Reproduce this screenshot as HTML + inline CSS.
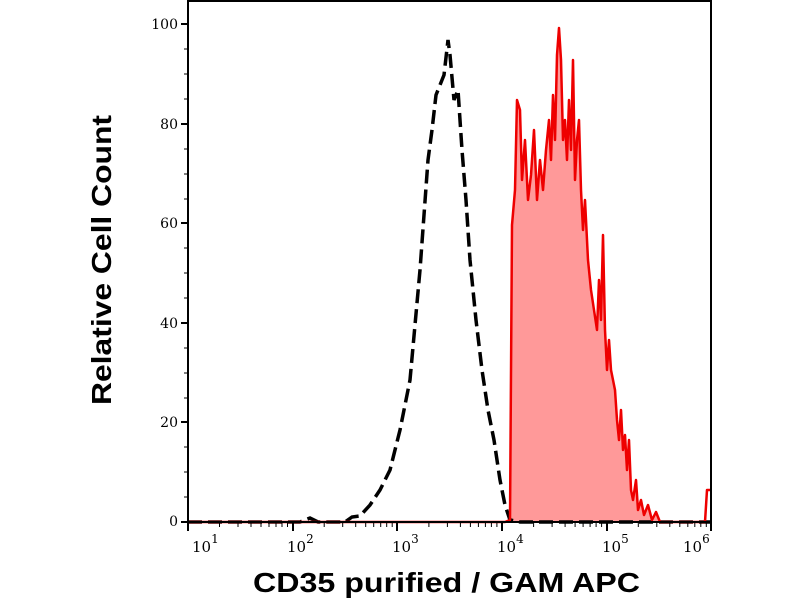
<!DOCTYPE html>
<html><head><meta charset="utf-8"><style>body{margin:0;background:#fff}svg{display:block}</style></head><body>
<svg width="800" height="600" xmlns="http://www.w3.org/2000/svg">
<rect width="800" height="600" fill="#fff"/>
<g font-family="DejaVu Serif, Liberation Serif, serif" font-size="14" fill="#000">
<text x="178" y="29" text-anchor="end">100</text>
<text x="178" y="129" text-anchor="end">80</text>
<text x="178" y="228" text-anchor="end">60</text>
<text x="178" y="328" text-anchor="end">40</text>
<text x="178" y="427" text-anchor="end">20</text>
<text x="178" y="526" text-anchor="end">0</text>
<g font-size="15">
<text x="192" y="552">10<tspan font-size="12" dy="-9">1</tspan></text>
<text x="287" y="552">10<tspan font-size="12" dy="-9">2</tspan></text>
<text x="392" y="552">10<tspan font-size="12" dy="-9">3</tspan></text>
<text x="497" y="552">10<tspan font-size="12" dy="-9">4</tspan></text>
<text x="602" y="552">10<tspan font-size="12" dy="-9">5</tspan></text>
<text x="683" y="552">10<tspan font-size="12" dy="-9">6</tspan></text>
</g></g>
<polygon fill="#f99" points="510,522 512,225 515,190 517,100 520,110 522,180 525,140 528,200 531,175 534,130 537,200 540,160 543,190 546,150 549,120 551,160 553,95 555,140 557,55 559,28 561,60 563,140 565,120 567,160 569,100 571,150 573,60 575,180 577,140 579,120 581,190 583,230 585,200 588,260 591,290 594,310 597,330 599,280 601,320 603,235 605,330 607,370 609,340 611,370 613,380 615,390 617,420 619,440 621,410 623,450 625,435 627,470 629,440 631,490 633,500 636,480 638,510 641,500 644,515 648,505 652,520 656,512 660,522"/>
<polyline fill="none" stroke="#000" stroke-width="3.5" stroke-dasharray="14 6" points="188,522 300,522 310,518 318,522 345,522 352,517 360,516 370,505 380,490 390,470 400,430 410,380 420,270 428,160 432,130 436,95 440,85 444,75 448,40 450,55 454,100 458,90 462,150 466,200 470,260 476,320 482,370 488,410 494,440 500,480 505,505 510,520 520,522 710,522"/>
<polyline fill="none" stroke="#e00" stroke-width="2.5" stroke-linejoin="round" points="188,522 505,522 510,520 512,225 515,190 517,100 520,110 522,180 525,140 528,200 531,175 534,130 537,200 540,160 543,190 546,150 549,120 551,160 553,95 555,140 557,55 559,28 561,60 563,140 565,120 567,160 569,100 571,150 573,60 575,180 577,140 579,120 581,190 583,230 585,200 588,260 591,290 594,310 597,330 599,280 601,320 603,235 605,330 607,370 609,340 611,370 613,380 615,390 617,420 619,440 621,410 623,450 625,435 627,470 629,440 631,490 633,500 636,480 638,510 641,500 644,515 648,505 652,520 656,512 660,522 705,522 707,490 710,490"/>
<g stroke="#000" stroke-width="2" fill="none">
<line x1="188" y1="0" x2="188" y2="523"/>
<line x1="187" y1="522" x2="711" y2="522"/>
<line x1="188" y1="1" x2="711" y2="1"/>
<line x1="711" y1="0" x2="711" y2="523"/>
<path d="M181,24h7M181,124h7M181,223h7M181,323h7M181,422h7M181,522h7"/>
<path d="M188,522v9M293,522v9M397,522v9M502,522v9M607,522v9M711,522v9"/>
</g>
<g stroke="#000" stroke-width="1">
<path id="mt" d="M219.5,522v5M238,522v5M251,522v5M261,522v5M269,522v5M276,522v5M282,522v5M287.5,522v5"/>
<use href="#mt" x="104.7"/><use href="#mt" x="209.4"/><use href="#mt" x="314.1"/><use href="#mt" x="418.8"/>
<path d="M184,49h4M184,74h4M184,99h4M184,149h4M184,174h4M184,199h4M184,248h4M184,273h4M184,298h4M184,348h4M184,373h4M184,398h4M184,447h4M184,472h4M184,497h4"/>
</g>
<text x="253" y="592" textLength="387" lengthAdjust="spacingAndGlyphs" font-family="Liberation Sans, sans-serif" font-weight="bold" font-size="28">CD35 purified / GAM APC</text>
<text transform="translate(111,405) rotate(-90)" textLength="290" lengthAdjust="spacingAndGlyphs" font-family="Liberation Sans, sans-serif" font-weight="bold" font-size="28">Relative Cell Count</text>
</svg>
</body></html>
